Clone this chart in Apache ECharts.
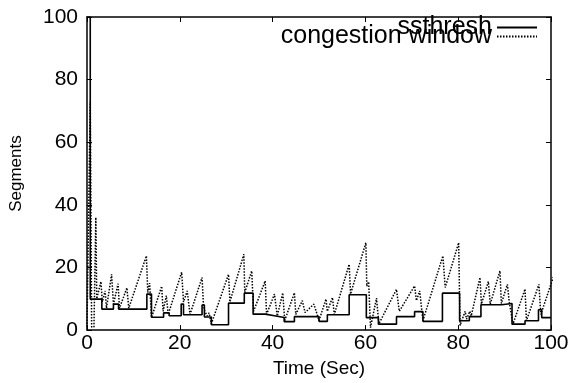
<!DOCTYPE html>
<html>
<head>
<meta charset="utf-8">
<script src="https://cdn.jsdelivr.net/npm/echarts@6/dist/echarts.min.js"></script>
<style>
html,body{margin:0;padding:0;background:#fff;}
#chart{width:576px;height:383px;}
</style>
</head>
<body>
<div id="chart"></div>
<script>
// ---- data ----
const xTicks = [0, 20, 40, 60, 80, 100];
const yTicks = [0, 20, 40, 60, 80, 100];
const seriesNames = ['ssthresh', 'congestion window'];

// ssthresh: [time, value] step starts
const ssthresh = [
  [0,100],[0.7,9.9],[3.2,6.7],[5.7,8.3],[6.8,6.7],[12.9,11.5],[13.9,4.1],[16.5,5.5],
  [17.7,4.6],[20.3,8.3],[20.8,4.9],[24.8,8.0],[25.3,4.2],[26.8,1.7],[30.5,8.6],
  [33.9,11.8],[35.8,5.1],[38.4,4.6],[40.4,4.0],[42.5,2.7],[44.7,4.3],[50.0,2.8],
  [51.8,4.9],[56.5,11.3],[60.2,4.0],[62.8,1.9],[66.7,4.3],[70.6,5.9],[72.4,2.8],
  [76.6,11.8],[80.3,3.0],[82.4,4.3],[84.9,8.1],[89.4,8.5],[91.6,1.9],[94.4,3.0],
  [97.3,6.5],[98.0,4.0],[100,4.0]
];

// congestion window: [time, value]
const cwnd = [
  [0,1],[0.7,73],[1.0,1],[1.5,1],[1.9,36],[2.1,10],[3.0,15.5],[3.3,9],[3.9,12.5],
  [4.2,7],[5.3,17.8],[5.7,8.3],[6.7,14.8],[7.0,7],[8.6,13.5],[9.0,7],[12.8,23.7],
  [13.1,12],[13.5,15],[13.9,4],[16.1,14],[16.4,6],[17.1,11],[17.5,5],[20.4,18.5],
  [20.8,9],[21.6,12.5],[22.2,5],[24.8,16.8],[25.1,8],[25.4,6],[25.9,4.5],[26.3,5.5],
  [26.8,2],[30.5,17.8],[30.8,9],[33.8,24.2],[34.0,12],[35.5,18.9],[35.9,6],
  [38.4,15.7],[38.7,5],[40.4,11.5],[41.0,4.5],[42.2,11.9],[42.6,3],[44.7,11.9],
  [45.0,5],[46.4,9.4],[47.0,5.6],[48.9,8.3],[49.6,5],[50.0,3],[51.5,9.9],[51.8,6],
  [52.9,10.4],[53.3,5],[56.5,21],[56.8,11.5],[60.1,27.9],[60.3,14],[60.7,15.5],
  [61.1,0.8],[62.4,10.2],[62.9,2],[66.7,13],[67.3,6],[70.6,14.1],[71.0,9.4],
  [71.7,12.5],[72.4,3],[76.7,23.7],[77.2,13.6],[80.1,27.9],[80.4,1.5],[81.5,6],
  [81.8,3.5],[82.5,6],[82.8,4.5],[84.7,16.8],[85.0,8.3],[86.5,15.5],[86.9,8.3],
  [89.0,18.9],[89.3,8.5],[90.6,14.6],[91.0,9],[91.8,1.9],[94.4,13.1],[94.7,3],
  [97.4,14.6],[97.8,5],[100.6,17.3]
];

const FONT = '"Liberation Sans", Arial, Helvetica, sans-serif';
const chart = echarts.init(document.getElementById('chart'), null, {renderer: 'canvas'});

const axisLine = {show: true, onZero: false, lineStyle: {color: '#000', width: 1.5}};
const axisTick = {show: true, inside: true, length: 5, lineStyle: {color: '#000', width: 1}};
const legendCommon = {
  right: 38, orient: 'vertical', align: 'right', padding: 0,
  itemWidth: 40, itemHeight: 12, itemGap: 0,
  itemStyle: {opacity: 0},
  textStyle: {fontFamily: FONT, fontSize: 25, color: '#000'},
  selectedMode: false
};

chart.setOption({
  animation: false,
  backgroundColor: '#fff',
  grid: {left: 86, right: 25, top: 17, bottom: 52, containLabel: false},
  legend: [
    Object.assign({data: [seriesNames[0]], top: 15}, legendCommon),
    Object.assign({data: [seriesNames[1]], top: 24}, legendCommon)
  ],
  xAxis: [
    {
      type: 'value', min: xTicks[0], max: xTicks[xTicks.length - 1], interval: 20,
      position: 'bottom', name: 'Time (Sec)', nameLocation: 'middle', nameGap: 28,
      nameTextStyle: {fontFamily: FONT, fontSize: 19, color: '#000'},
      axisLine, axisTick, splitLine: {show: false},
      axisLabel: {fontFamily: FONT, fontSize: 21, color: '#000', margin: 3}
    },
    {
      type: 'value', min: xTicks[0], max: xTicks[xTicks.length - 1], interval: 20,
      position: 'top', axisLine, axisTick, splitLine: {show: false},
      axisLabel: {show: false}
    }
  ],
  yAxis: [
    {
      type: 'value', min: yTicks[0], max: yTicks[yTicks.length - 1], interval: 20,
      position: 'left', name: 'Segments', nameLocation: 'middle', nameGap: 62,
      nameTextStyle: {fontFamily: FONT, fontSize: 17, color: '#000'},
      axisLine, axisTick, splitLine: {show: false},
      axisLabel: {fontFamily: FONT, fontSize: 21, color: '#000', margin: 9}
    },
    {
      type: 'value', min: yTicks[0], max: yTicks[yTicks.length - 1], interval: 20,
      position: 'right', axisLine, axisTick, splitLine: {show: false},
      axisLabel: {show: false}
    }
  ],
  series: [
    {
      name: seriesNames[0], type: 'line', step: 'end', data: ssthresh,
      showSymbol: false, symbol: 'none', clip: true,
      lineStyle: {color: '#000', width: 1.6, type: 'solid'},
      itemStyle: {color: '#000'}
    },
    {
      name: seriesNames[1], type: 'line', data: cwnd,
      showSymbol: false, symbol: 'none', clip: true,
      lineStyle: {color: '#000', width: 1.5, type: [1.5, 1.5]},
      itemStyle: {color: '#000'}
    }
  ]
});
</script>
</body>
</html>
